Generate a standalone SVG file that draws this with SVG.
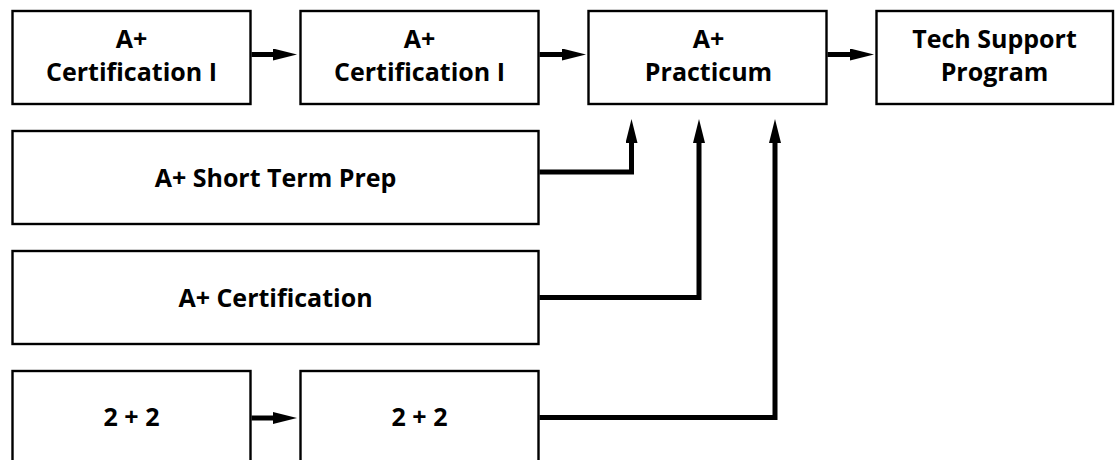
<svg xmlns="http://www.w3.org/2000/svg" width="1117" height="460" viewBox="0 0 1117 460">
<style>
.box{fill:#fff;stroke:#000;stroke-width:2.4}
.t{font-family:"Open Sans","Liberation Sans",sans-serif;font-weight:700;font-size:25px;fill:#000;text-anchor:middle}
.c{fill:none;stroke:#000;stroke-width:5;stroke-linejoin:miter;marker-end:url(#ah)}
</style>
<defs>
<marker id="ah" markerUnits="userSpaceOnUse" viewBox="0 -6 24 12" refX="1" refY="0" markerWidth="24" markerHeight="12" orient="auto">
<path d="M0,-6 L24,0 L0,6 Z" fill="#000"/>
</marker>
</defs>
<rect width="1117" height="460" fill="#fff"/>
<g id="n1"><rect class="box" x="12.5" y="11" width="238" height="93"/><text class="t" x="131.5" y="47.5">A+</text><text class="t" x="131.5" y="81">Certification I</text></g>
<g id="n2"><rect class="box" x="300.5" y="11" width="238" height="93"/><text class="t" x="419.5" y="47.5">A+</text><text class="t" x="419.5" y="81">Certification I</text></g>
<g id="n3"><rect class="box" x="588.5" y="11" width="238" height="93"/><text class="t" x="708.5" y="47.5">A+</text><text class="t" x="708.5" y="81">Practicum</text></g>
<g id="n4"><rect class="box" x="876.5" y="11" width="236.5" height="93"/><text class="t" x="994.5" y="47.5">Tech Support</text><text class="t" x="994.5" y="81">Program</text></g>
<g id="n5"><rect class="box" x="12.5" y="131" width="526" height="93"/><text class="t" x="275.5" y="186.5">A+ Short Term Prep</text></g>
<g id="n6"><rect class="box" x="12.5" y="251" width="526" height="93"/><text class="t" x="275.5" y="306.5">A+ Certification</text></g>
<g id="n7"><rect class="box" x="12.5" y="371" width="238" height="100"/><text class="t" x="131.5" y="426">2 + 2</text></g>
<g id="n8"><rect class="box" x="300.5" y="371" width="238" height="100"/><text class="t" x="419.5" y="426">2 + 2</text></g>
<g id="connectors">
<path class="c" d="M251.5,54.5 H274"/>
<path class="c" d="M539.5,54.5 H563"/>
<path class="c" d="M827.5,54.5 H851"/>
<path class="c" d="M251.5,418 H274"/>
<path class="c" d="M539.5,172 H631.5 V142"/>
<path class="c" d="M539.5,297.5 H699 V142"/>
<path class="c" d="M539.5,417.5 H775 V142"/>
</g>
</svg>
